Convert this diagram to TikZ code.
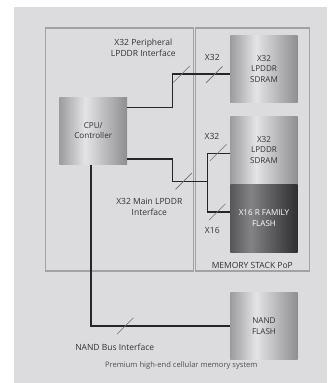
\documentclass[tikz,border=0pt]{standalone}
\usepackage{fontspec}
\setmainfont{Open Sans}
\usetikzlibrary{positioning,calc}
\definecolor{PageWhite}  {HTML}{FFFFFF}
\definecolor{PanelGray}  {HTML}{DCDCDE}
\definecolor{FrameGray}  {HTML}{A2A2A4}
\definecolor{WireBlack}  {HTML}{262626}
\definecolor{TickGray}   {HTML}{6E6E6E}
\definecolor{InkGray}    {HTML}{333333}
\definecolor{NoteGray}   {HTML}{505050}
\definecolor{ChipL}      {HTML}{9C9C9E}
\definecolor{ChipM}      {HTML}{E4E4E6}
\definecolor{ChipR}      {HTML}{8E8E90}
\definecolor{FlashL}     {HTML}{575759}
\definecolor{FlashM}     {HTML}{838385}
\definecolor{FlashR}     {HTML}{2E2E30}
\pgfdeclarehorizontalshading{chipshade}{100bp}{color(0bp)=(ChipL); color(25bp)=(ChipL);
  color(44bp)=(ChipM); color(75bp)=(ChipR); color(100bp)=(ChipR)}
\pgfdeclarehorizontalshading{flashshade}{100bp}{color(0bp)=(FlashL); color(25bp)=(FlashL);
  color(40bp)=(FlashM); color(75bp)=(FlashR); color(100bp)=(FlashR)}
\tikzset{
  chip/.style={rectangle,shading=chipshade,minimum width=67.4pt,minimum height=#1,
               inner sep=0pt,align=center,font=\fontsize{8.1}{10.6}\selectfont\color{InkGray}},
  chip/.default=67pt,
  flashchip/.style={chip=68.3pt,shading=flashshade,font=\fontsize{8.1}{10.6}\selectfont\color{white}},
  frame/.style={draw=FrameGray,line width=1.1pt},
  bus/.style={draw=WireBlack,line width=1.3pt},
  slash/.style={draw=TickGray,line width=0.6pt},
  lbl/.style={align=center,inner sep=0pt,font=\fontsize{8.5}{10.7}\selectfont\color{InkGray}},
}
\begin{document}
\begin{tikzpicture}[x=1pt,y=-1pt]
  \useasboundingbox[fill=PageWhite] (0,0) rectangle (327,383);
  \fill[PanelGray] (14,7) rectangle (327,383);

  % panels
  \draw[frame] (45.7,28) rectangle (193.3,271);
  \draw[frame] (195.3,28) rectangle (309.3,271);
  \node[lbl] (pop) at (252.3,265.2){MEMORY STACK PoP};

  % chips
  \node[chip=67.3pt,minimum width=67.7pt] (cpu) at (93.2,130.7){CPU/\\Controller};
  \node[chip=66.6pt] (sdramA) at (264,69){X32\\LPDDR\\SDRAM};
  \node[chip=68pt] (sdramB) at (264,150){X32\\LPDDR\\SDRAM};
  \node[flashchip] (flash) at (264,218.2){X16 R FAMILY\\FLASH};
  \node[chip=67.4pt] (nand) at (264,326){NAND\\FLASH};

  % connectors
  \coordinate (jA) at (172.3,74);
  \coordinate (jB) at (172.3,181.3);
  \coordinate (jC) at (207.3,181.3);
  \draw[bus] ([yshift=23.4pt]cpu.east) -| (jA) -- ([yshift=-5pt]sdramA.west);
  \draw[bus] ([yshift=-28.3pt]cpu.east) -| (jB) -- (jC);
  \draw[bus] ([yshift=-3.7pt]sdramB.west) -| (jC) |- ([yshift=6.2pt]flash.west);
  \draw[bus] ([xshift=-2.2pt]cpu.south) |- (nand.west);

  % bus width ticks
  \coordinate (t1) at (181.5,74.3);
  \coordinate (t2) at (214.3,74.6);
  \coordinate (t3) at (183.7,181.2);
  \coordinate (t4) at (218.3,152.4);
  \coordinate (t5) at (217.2,212);
  \coordinate (t6) at (125.3,326);
  \foreach \t in {t1,t2,t3,t4,t5,t6}
    \draw[slash] (\t) ++(-8.2,8.2) -- ++(16.4,-16.4);

  % labels
  \node[lbl] (periph) at (143.3,48){X32 Peripheral\\LPDDR Interface};
  \node[lbl] (wA) at (212.3,57.3){X32};
  \node[lbl] (wB) at (212,136){X32};
  \node[lbl] (wC) at (212.3,230){X16};
  \node[lbl] (main) at (149.3,207){X32 Main LPDDR\\Interface};
  \node[lbl] (nandbus) at (114.7,347){NAND Bus Interface};
  \node[lbl,font=\fontsize{7.6}{9}\selectfont,text=NoteGray] (caption) at (181.3,365.3){Premium high-end cellular memory system};
\end{tikzpicture}
\end{document}
